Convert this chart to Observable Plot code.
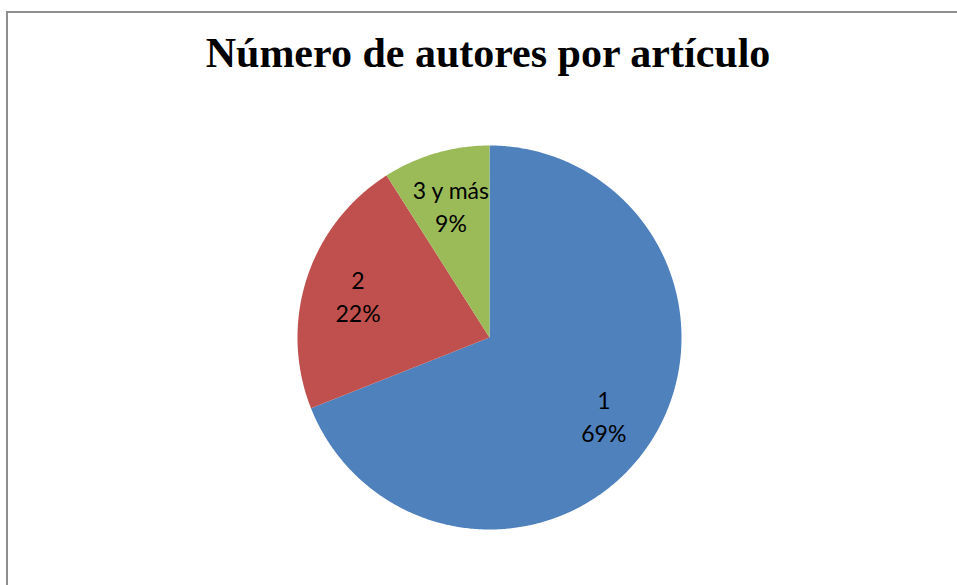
<!DOCTYPE html>
<html>
<head>
<meta charset="utf-8">
<script src="https://cdn.jsdelivr.net/npm/d3@7"></script>
<script src="https://cdn.jsdelivr.net/npm/@observablehq/plot@0.6"></script>
<style>
  html, body { margin: 0; padding: 0; background: #fff; }
  #wrap { position: relative; width: 957px; height: 585px; overflow: hidden; background: #fff; }
  #frame { position: absolute; left: 6px; top: 11px; width: 1200px; height: 1200px; border: 2px solid #8f8f8f; box-sizing: border-box; }
  #title { position: absolute; left: 0; width: 976px; top: 28px; text-align: center;
           font-family: "Liberation Serif", "DejaVu Serif", serif; font-weight: bold; font-size: 42px; line-height: 50px; color: #000; }
  #chart { position: absolute; left: 0; top: 110px; }
</style>
</head>
<body>
<div id="wrap">
  <div id="frame"></div>
  <div id="title">Número de autores por artículo</div>
  <div id="chart"></div>
</div>
<script>
// Data
const categories = ["1", "2", "3 y más"];
const values = [69, 22, 9];
const percentLabels = ["69%", "22%", "9%"];
const colors = ["#4F81BD", "#C0504D", "#9BBB59"];

// Layout
const W = 957, H = 475;
const R = 192, cx = 489, cy = 227;
const labelRadius = 0.72;

const arcs = d3.pie().sort(null).value(d => d.value)(
  categories.map((c, i) => ({category: c, value: values[i], label: percentLabels[i]}))
);

const slicePts = [];
arcs.forEach(a => {
  const cat = a.data.category;
  slicePts.push({category: cat, x: 0, y: 0});
  const n = Math.max(2, Math.ceil((a.endAngle - a.startAngle) / (Math.PI / 360)));
  for (let k = 0; k <= n; k++) {
    const t = a.startAngle + (a.endAngle - a.startAngle) * k / n;
    slicePts.push({category: cat, x: Math.sin(t), y: Math.cos(t)});
  }
});

const labels = arcs.map(a => {
  const m = (a.startAngle + a.endAngle) / 2;
  return {text: a.data.category + "\n" + a.data.label, x: labelRadius * Math.sin(m), y: labelRadius * Math.cos(m)};
});

const chart = Plot.plot({
  width: W, height: H,
  margin: 0,
  x: {domain: [-cx / R, (W - cx) / R], axis: null},
  y: {domain: [-(H - cy) / R, cy / R], axis: null},
  color: {domain: categories, range: colors},
  style: {background: "transparent", overflow: "visible"},
  marks: [
    Plot.line(slicePts, {x: "x", y: "y", z: "category", fill: "category", stroke: "none", curve: "linear-closed"}),
    Plot.text(labels, {x: "x", y: "y", text: "text", fontSize: 23, lineHeight: 1.43,
      fontFamily: "Lato, 'Open Sans', sans-serif", fill: "#000"})
  ]
});
document.getElementById("chart").appendChild(chart);
</script>
</body>
</html>
